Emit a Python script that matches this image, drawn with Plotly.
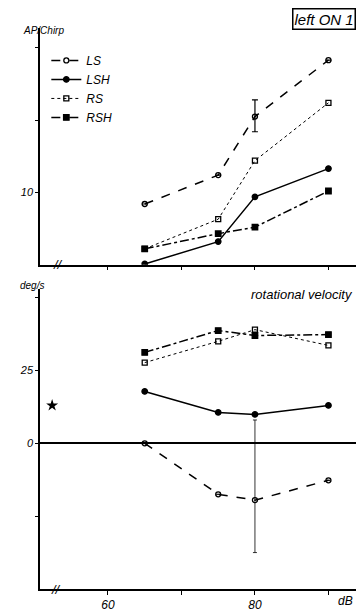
import plotly.graph_objects as go
from plotly.subplots import make_subplots

db = [65, 75, 80, 90]

# AP/Chirp (top panel)
ap_LS = [8.4, 12.4, 20.5, 28.3]
ap_LSH = [0.1, 3.2, 9.4, 13.3]
ap_RS = [2.2, 6.3, 14.4, 22.4]
ap_RSH = [2.2, 4.3, 5.2, 10.2]
ap_LS_err_plus = [0, 0, 2.3, 0]
ap_LS_err_minus = [0, 0, 2.1, 0]

# rotational velocity deg/s (bottom panel)
rv_LS = [0.0, -17.5, -19.5, -12.7]
rv_LSH = [17.8, 10.6, 9.9, 13.0]
rv_RS = [27.7, 35.0, 39.0, 33.6]
rv_RSH = [31.2, 38.7, 37.0, 37.3]
rv_LS_err_plus = [0, 0, 27.5, 0]
rv_LS_err_minus = [0, 0, 18.0, 0]

spont_x = [52.4]
spont_y = [13.0]

FONT = "Liberation Sans"
fig = make_subplots(rows=2, cols=1, shared_xaxes=False, vertical_spacing=0.0)

styles = {
    "LS": dict(dash="dash", width=1.5, symbol="circle-open", size=5),
    "LSH": dict(dash="solid", width=1.5, symbol="circle", size=5.5),
    "RS": dict(dash="dot", width=1, symbol="square-open", size=5),
    "RSH": dict(dash="dashdot", width=1.5, symbol="square", size=5.5),
}

top = {"LS": ap_LS, "LSH": ap_LSH, "RS": ap_RS, "RSH": ap_RSH}
bot = {"LS": rv_LS, "LSH": rv_LSH, "RS": rv_RS, "RSH": rv_RSH}

for name in ["LS", "LSH", "RS", "RSH"]:
    s = styles[name]
    err = None
    if name == "LS":
        err = dict(type="data", array=ap_LS_err_plus, arrayminus=ap_LS_err_minus,
                   color="black", thickness=1.2, width=3, symmetric=False)
    fig.add_trace(go.Scatter(x=db, y=top[name], name=name, mode="lines+markers",
                             line=dict(color="black", dash=s["dash"], width=s["width"]),
                             marker=dict(symbol=s["symbol"], size=s["size"], color="black",
                                         line=dict(color="black", width=1.3)),
                             error_y=err, showlegend=True), row=1, col=1)
for name in ["LS", "LSH", "RS", "RSH"]:
    s = styles[name]
    err = None
    if name == "LS":
        err = dict(type="data", array=rv_LS_err_plus, arrayminus=rv_LS_err_minus,
                   color="black", thickness=0.8, width=2, symmetric=False)
    fig.add_trace(go.Scatter(x=db, y=bot[name], name=name, mode="lines+markers",
                             line=dict(color="black", dash=s["dash"], width=s["width"]),
                             marker=dict(symbol=s["symbol"], size=s["size"], color="black",
                                         line=dict(color="black", width=1.3)),
                             error_y=err, showlegend=False), row=2, col=1)

fig.add_trace(go.Scatter(x=spont_x, y=spont_y, mode="markers", showlegend=False,
                         marker=dict(symbol="star", size=9, color="black")), row=2, col=1)

xr = [50.75, 93.75]
common_x = dict(range=xr, showline=True, linecolor="black", linewidth=1.5,
                showgrid=False, zeroline=False, ticks="outside", ticklen=4,
                tickcolor="black", tickvals=[60, 70, 80, 90])
fig.update_xaxes(**common_x, ticktext=["", "", "", ""], domain=[0, 1], row=1, col=1)
fig.update_xaxes(**common_x, ticktext=["60", "", "80", ""],
                 tickfont=dict(family=FONT, size=12, style="italic", color="black"),
                 row=2, col=1)
fig.update_yaxes(range=[0, 32.75], domain=[0.578, 1.0], showline=True, linecolor="black",
                 linewidth=1.5, showgrid=False, zeroline=False, ticks="outside", ticklen=3,
                 tickcolor="black", tickvals=[10, 20, 30], ticktext=["10", "", ""],
                 tickfont=dict(family=FONT, size=11, style="italic", color="black"),
                 row=1, col=1)
fig.update_yaxes(range=[-50, 53.1], domain=[0.0, 0.5355], showline=True, linecolor="black",
                 linewidth=1.5, showgrid=False, zeroline=True, zerolinecolor="black",
                 zerolinewidth=1.5, ticks="outside", ticklen=3, tickcolor="black",
                 tickvals=[-25, 0, 25, 50], ticktext=["", "0", "25", ""],
                 tickfont=dict(family=FONT, size=11, style="italic", color="black"),
                 row=2, col=1)

ann_font = dict(family=FONT, style="italic", color="black")
annotations = [
    dict(text="left ON 1", xref="paper", yref="paper", x=1.0, y=1.035, xanchor="right",
         yanchor="top", showarrow=False, font=dict(**ann_font, size=15),
         bordercolor="black", borderwidth=1.5, borderpad=1),
    dict(text="AP/Chirp", xref="paper", yref="paper", x=-0.06, y=0.996, xanchor="left",
         yanchor="middle", showarrow=False, font=dict(**ann_font, size=10)),
    dict(text="deg/s", xref="paper", yref="paper", x=-0.07, y=0.541, xanchor="left",
         yanchor="middle", showarrow=False, font=dict(**ann_font, size=10)),
    dict(text="rotational velocity", xref="paper", yref="paper", x=0.997, y=0.525,
         xanchor="right", yanchor="middle", showarrow=False, font=dict(**ann_font, size=13)),
    dict(text="dB", xref="paper", yref="paper", x=(345 - 40) / 316, y=-0.005,
         xanchor="center", yanchor="top", showarrow=False, font=dict(**ann_font, size=12)),
    dict(text="//", xref="paper", yref="paper", x=(58 - 40) / 316, y=0.578,
         xanchor="center", yanchor="middle", showarrow=False, font=dict(**ann_font, size=13)),
    dict(text="//", xref="paper", yref="paper", x=(56 - 40) / 316, y=0.0,
         xanchor="center", yanchor="middle", showarrow=False, font=dict(**ann_font, size=13)),
]

fig.update_layout(
    width=358, height=614, margin=dict(l=40, r=2, t=28, b=22),
    plot_bgcolor="white", paper_bgcolor="white",
    font=dict(family=FONT, color="black"),
    legend=dict(x=0.02, y=0.968, xanchor="left", yanchor="top",
                font=dict(family=FONT, size=12, style="italic", color="black"),
                bgcolor="rgba(0,0,0,0)", tracegroupgap=0, itemwidth=30),
    annotations=annotations,
)

fig.write_html("out.html")
